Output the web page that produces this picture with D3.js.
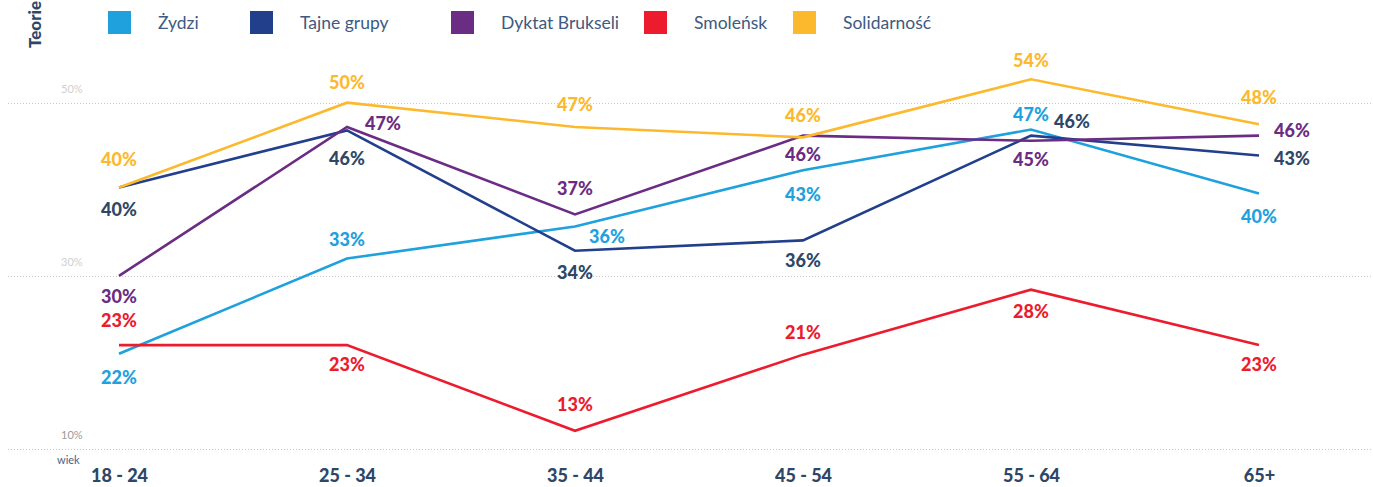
<!DOCTYPE html>
<html><head><meta charset="utf-8">
<script src="https://cdn.jsdelivr.net/npm/d3@7"></script>
<style>
html,body{margin:0;padding:0;background:#fff;}
svg{display:block;font-family:Lato,"Open Sans",sans-serif;}
</style></head>
<body><svg id="chart" width="1373" height="487"></svg>
<script>
const categories = ["18 - 24","25 - 34","35 - 44","45 - 54","55 - 64","65+"];
const seriesNames = ["Żydzi","Tajne grupy","Dyktat Brukseli","Smoleńsk","Solidarność"];
const zydzi       = [21.0, 32.0, 35.7, 42.2, 46.9, 39.5];
const tajneGrupy  = [40.2, 46.8, 32.9, 34.1, 46.2, 43.9];
const dyktat      = [30.0, 47.2, 37.1, 46.2, 45.6, 46.2];
const smolensk    = [22.0, 22.0, 12.1, 20.9, 28.4, 22.0];
const solidarnosc = [40.2, 50.0, 47.2, 46.0, 52.7, 47.5];
const labelsZydzi       = ["22%","33%","36%","43%","47%","40%"];
const labelsTajne       = ["40%","46%","34%","36%","46%","43%"];
const labelsDyktat      = ["30%","47%","37%","46%","45%","46%"];
const labelsSmolensk    = ["23%","23%","13%","21%","28%","23%"];
const labelsSolidarnosc = ["40%","50%","47%","46%","54%","48%"];
const yTicks = [10, 30, 50];
const yTickLabels = ["10%","30%","50%"];

const colors = ["#1ea1dc","#213f8b","#6b2c84","#ec1c2e","#fdb92e"];
const labelColors = ["#1ea1dc","#2e4766","#6b2c84","#ec1c2e","#fdb92e"];
// label offsets [dx, dy] relative to the vertex (styling)
const offsets = [
  [[0,24],[0,-19],[32,10],[0,24],[0,-15],[0,23]],
  [[0,22],[0,28],[0,22],[0,20],[41,-14],[33,3]],
  [[0,21],[36,-3],[0,-26],[0,19],[0,19],[33,-5]],
  [[0,-24],[0,20],[0,-26],[0,-22],[0,22],[0,20]],
  [[0,-28],[0,-20],[0,-22],[0,-22],[0,-19],[0,-27]]
];

const series = [zydzi, tajneGrupy, dyktat, smolensk, solidarnosc];
const labels = [labelsZydzi, labelsTajne, labelsDyktat, labelsSmolensk, labelsSolidarnosc];

const svg = d3.select("#chart");
const x = d3.scalePoint().domain(categories).range([119, 1259]);
const y = d3.scaleLinear().domain([10, 50]).range([449, 102.7]);

// gridlines
const grid = svg.append("g");
yTicks.forEach((t, i) => {
  grid.append("line").attr("x1", 8).attr("x2", 1373)
    .attr("y1", Math.round(y(t)) + 0.5).attr("y2", Math.round(y(t)) + 0.5)
    .attr("stroke", "#c8c8c8").attr("stroke-width", 1).attr("stroke-dasharray", "1,2");
  grid.append("text").attr("x", 61).attr("y", y(t) - 10)
    .attr("font-size", 11).attr("fill", t === 10 ? "#9a9a9a" : "#cfcfcf")
    .text(yTickLabels[i]);
});

// x axis
const xAxis = d3.axisBottom(x).tickSize(0).tickPadding(0);
const gx = svg.append("g").attr("transform", "translate(0,482)").call(xAxis);
gx.select(".domain").remove();
gx.selectAll("text").attr("font-size", 18).attr("font-weight", 900)
  .attr("fill", "#2e4766").attr("font-family", "Lato, sans-serif").attr("y", 0).attr("dy", 0);

svg.append("text").attr("x", 57).attr("y", 464).attr("font-size", 11)
  .attr("fill", "#4a6285").text("wiek");

svg.append("text").attr("transform", "translate(41,48) rotate(-90)")
  .attr("font-size", 17).attr("font-weight", 900).attr("fill", "#2e4766").text("Teorie");

// lines
const line = d3.line().x((d, i) => x(categories[i])).y(d => y(d));
series.forEach((s, k) => {
  svg.append("path").datum(s).attr("d", line).attr("fill", "none")
    .attr("stroke", colors[k]).attr("stroke-width", 2.6).attr("stroke-linejoin", "miter");
});

// labels
series.forEach((s, k) => {
  svg.append("g").selectAll("text").data(s).join("text")
    .attr("x", (d, i) => x(categories[i]) + offsets[k][i][0])
    .attr("y", (d, i) => y(d) + offsets[k][i][1])
    .attr("dy", "0.35em").attr("text-anchor", "middle")
    .attr("font-size", 18).attr("font-weight", 900).attr("fill", labelColors[k])
    .text((d, i) => labels[k][i]);
});

// legend
const legendX = [108, 250, 451, 644, 793];
const lg = svg.append("g");
seriesNames.forEach((n, k) => {
  lg.append("rect").attr("x", legendX[k]).attr("y", 11).attr("width", 23).attr("height", 23)
    .attr("fill", colors[k]);
  lg.append("text").attr("x", legendX[k] + 50).attr("y", 22.5).attr("dy", "0.35em")
    .attr("font-size", 17.5).attr("fill", "#3d5a80").text(n);
});
</script></body></html>
